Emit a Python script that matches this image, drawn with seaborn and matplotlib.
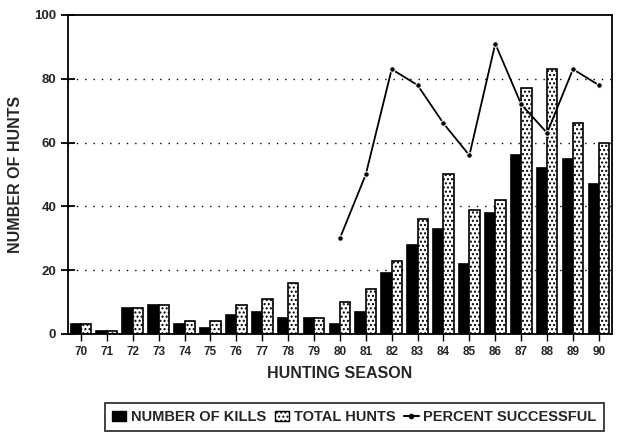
import pandas as pd
import seaborn as sns
import matplotlib.pyplot as plt
from matplotlib.patches import Patch
from matplotlib.lines import Line2D

###############################################################################
# Data
###############################################################################
seasons = ["70", "71", "72", "73", "74", "75", "76", "77", "78", "79", "80",
           "81", "82", "83", "84", "85", "86", "87", "88", "89", "90"]
kills = [3, 1, 8, 9, 3, 2, 6, 7, 5, 5, 3, 7, 19, 28, 33, 22, 38, 56, 52, 55, 47]
hunts = [3, 1, 8, 9, 4, 4, 9, 11, 16, 5, 10, 14, 23, 36, 50, 39, 42, 77, 83, 66, 60]
pct_seasons = ["80", "81", "82", "83", "84", "85", "86", "87", "88", "89", "90"]
pct_success = [30, 50, 83, 78, 66, 56, 91, 72, 63, 83, 78]

###############################################################################
# Build long table for seaborn
###############################################################################
bars = pd.DataFrame({
    "Season": seasons * 2,
    "Count": kills + hunts,
    "Series": ["NUMBER OF KILLS"] * len(seasons) + ["TOTAL HUNTS"] * len(seasons),
})
line = pd.DataFrame({
    "pos": [seasons.index(s) for s in pct_seasons],
    "Percent": pct_success,
})

sns.set_style("white")
plt.rcParams["font.family"] = ["Liberation Sans", "DejaVu Sans"]
plt.rcParams["font.weight"] = "bold"
plt.rcParams["hatch.linewidth"] = 1.0

fig = plt.figure(figsize=(6.18, 4.40), dpi=100)
ax = fig.add_axes([0.110, 0.241, 0.880, 0.725])

sns.barplot(
    data=bars, x="Season", y="Count", hue="Series", order=seasons,
    palette={"NUMBER OF KILLS": "black", "TOTAL HUNTS": "white"},
    edgecolor="black", linewidth=1.2, width=0.8, dodge=True,
    legend=False, ax=ax,
)
# dotted fill for total hunts
for bar in ax.patches[len(seasons):]:
    bar.set_hatch("....")

sns.lineplot(data=line, x="pos", y="Percent", color="black", linewidth=1.3,
             marker="o", markersize=4, ax=ax, zorder=5)

ax.set_xlim(-0.5, len(seasons) - 0.5)
ax.set_ylim(0, 100)
ax.set_yticks([0, 20, 40, 60, 80, 100])
for y in [20, 40, 60, 80]:
    ax.axhline(y, color="black", linestyle=(0, (1, 5)), linewidth=1, zorder=0)

for side in ax.spines.values():
    side.set_color("black")
    side.set_linewidth(1.3)

ax.tick_params(axis="x", direction="out", length=5, width=1, labelsize=8.5,
               color="black", bottom=True)
ax.tick_params(axis="y", direction="inout", length=10, width=1.3, labelsize=9.5,
               color="black", left=True)
for lbl in ax.get_xticklabels() + ax.get_yticklabels():
    lbl.set_fontweight("heavy")

ax.set_xlabel("HUNTING SEASON", fontsize=11.5, fontweight="heavy", labelpad=6)
ax.set_ylabel("NUMBER OF HUNTS", fontsize=11.5, fontweight="heavy", labelpad=8)

handles = [
    Patch(facecolor="black", edgecolor="black", label="NUMBER OF KILLS"),
    Patch(facecolor="white", edgecolor="black", hatch="....", label="TOTAL HUNTS"),
    Line2D([0], [0], color="black", marker="o", markersize=3,
           label="PERCENT SUCCESSFUL"),
]
leg = fig.legend(handles=handles, loc="center", bbox_to_anchor=(0.573, 0.052),
                 ncol=3, frameon=True, fancybox=False, edgecolor="black",
                 prop={"weight": "heavy", "size": 10.5}, handlelength=1.0,
                 handletextpad=0.3, columnspacing=0.6, borderpad=0.5,
                 borderaxespad=0)
leg.get_frame().set_linewidth(1.3)

fig.savefig("out.png", dpi=100)
